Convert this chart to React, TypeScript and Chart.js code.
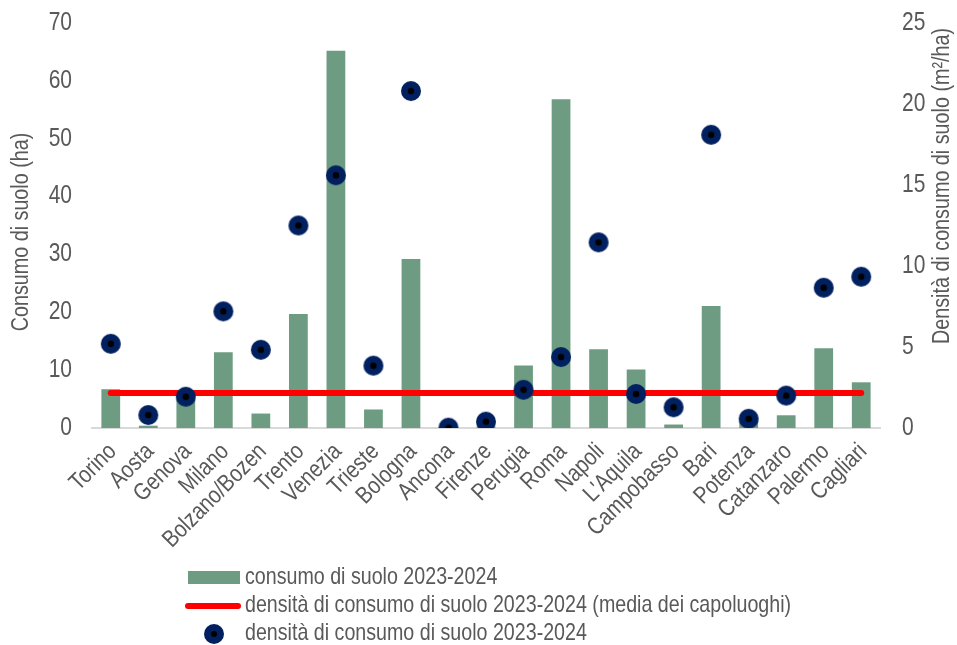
import React, { useEffect, useRef } from 'react';
import { Chart, registerables } from 'chart.js';

Chart.register(...registerables);

const categories = ['Torino', 'Aosta', 'Genova', 'Milano', 'Bolzano/Bozen', 'Trento', 'Venezia', 'Trieste', 'Bologna', 'Ancona', 'Firenze', 'Perugia', 'Roma', 'Napoli', "L'Aquila", 'Campobasso', 'Bari', 'Potenza', 'Catanzaro', 'Palermo', 'Cagliari'];
const consumoHa = [6.7, 0.4, 5.0, 13.1, 2.5, 19.7, 65.2, 3.2, 29.2, 0.0, 0.3, 10.8, 56.8, 13.6, 10.1, 0.6, 21.1, 1.2, 2.2, 13.8, 7.9];
const densita = [5.2, 0.8, 1.93, 7.2, 4.83, 12.5, 15.6, 3.85, 20.8, 0.02, 0.39, 2.36, 4.38, 11.46, 2.1, 1.28, 18.1, 0.57, 2.0, 8.66, 9.34];
const mediaDensita = 2.16;
const leftTickValues = [0, 10, 20, 30, 40, 50, 60, 70];
const rightTickValues = [0, 5, 10, 15, 20, 25];

const labelBar = 'consumo di suolo 2023-2024';
const labelLine = 'densità di consumo di suolo 2023-2024 (media dei capoluoghi)';
const labelPoints = 'densità di consumo di suolo 2023-2024';
const titleLeft = 'Consumo di suolo (ha)';
const titleRight = 'Densità di consumo di suolo (m²/ha)';

const FONT = "'Liberation Sans', Arial, sans-serif";
const SX = 0.84; // narrow glyphs
const TEXT = '#595959';
const GREEN = '#6E9C82';
const NAVY = '#002060';
const RED = '#FF0000';

function makeMarker(r: number, dot: number): HTMLCanvasElement {
  const c = document.createElement('canvas');
  const s = Math.ceil(r * 2 + 2);
  c.width = s;
  c.height = s;
  const ctx = c.getContext('2d')!;
  ctx.fillStyle = NAVY;
  ctx.beginPath();
  ctx.arc(s / 2, s / 2, r, 0, Math.PI * 2);
  ctx.fill();
  ctx.fillStyle = '#000000';
  ctx.beginPath();
  ctx.arc(s / 2, s / 2, dot, 0, Math.PI * 2);
  ctx.fill();
  return c;
}

function narrowText(ctx: CanvasRenderingContext2D, text: string, x: number, y: number, size: number, align: CanvasTextAlign, rot = 0) {
  ctx.save();
  ctx.translate(x, y);
  if (rot) ctx.rotate(rot);
  ctx.scale(SX, 1);
  ctx.font = `${size}px ${FONT}`;
  ctx.textAlign = align;
  ctx.textBaseline = 'middle';
  ctx.fillStyle = TEXT;
  ctx.fillText(text, 0, 0);
  ctx.restore();
}

const extrasPlugin = {
  id: 'extras',
  afterDraw(chart: any) {
    const ctx = chart.ctx as CanvasRenderingContext2D;
    const ys = chart.scales.y;
    const y2s = chart.scales.y2;
    const xs = chart.scales.x;
    ctx.save();
    // tick labels
    leftTickValues.forEach((v) => narrowText(ctx, String(v), 72, ys.getPixelForValue(v), 25, 'right'));
    rightTickValues.forEach((v) => narrowText(ctx, String(v), 902, y2s.getPixelForValue(v), 25, 'left'));
    categories.forEach((c, i) => narrowText(ctx, c, xs.getPixelForTick(i) + 2, 448, 24, 'right', -Math.PI / 4));
    // axis titles
    narrowText(ctx, titleLeft, 22, 232, 23.5, 'center', -Math.PI / 2);
    narrowText(ctx, titleRight, 943, 186, 23.5, 'center', -Math.PI / 2);

    // legend
    const tx = 245;
    const lf = 23.4;
    ctx.fillStyle = GREEN;
    ctx.fillRect(188, 571, 52, 13);
    narrowText(ctx, labelBar, tx, 578, lf, 'left');
    ctx.strokeStyle = RED;
    ctx.lineWidth = 6;
    ctx.lineCap = 'round';
    ctx.beginPath();
    ctx.moveTo(188, 606);
    ctx.lineTo(238, 606);
    ctx.stroke();
    narrowText(ctx, labelLine, tx, 606, lf, 'left');
    ctx.fillStyle = NAVY;
    ctx.beginPath();
    ctx.arc(214, 634, 10, 0, Math.PI * 2);
    ctx.fill();
    ctx.fillStyle = '#000';
    ctx.beginPath();
    ctx.arc(214, 634, 3, 0, Math.PI * 2);
    ctx.fill();
    narrowText(ctx, labelPoints, tx, 634, lf, 'left');
    ctx.restore();
  },
};

export default function App() {
  const ref = useRef<HTMLCanvasElement | null>(null);
  useEffect(() => {
    if (!ref.current) return;
    const marker = makeMarker(10, 3.2);
    const chart = new Chart(ref.current, {
      type: 'bar',
      data: {
        labels: categories,
        datasets: [
          {
            type: 'line',
            label: labelPoints,
            data: densita,
            yAxisID: 'y2',
            showLine: false,
            pointStyle: marker as any,
            pointRadius: 10,
            pointHoverRadius: 10,
            order: 0,
          } as any,
          {
            type: 'line',
            label: labelLine,
            data: categories.map(() => mediaDensita),
            yAxisID: 'y2',
            borderColor: RED,
            borderWidth: 6,
            borderCapStyle: 'round',
            pointRadius: 0,
            fill: false,
            order: 1,
          } as any,
          {
            type: 'bar',
            label: labelBar,
            data: consumoHa,
            yAxisID: 'y',
            backgroundColor: GREEN,
            barPercentage: 0.5,
            categoryPercentage: 1.0,
            order: 2,
          },
        ],
      },
      options: {
        animation: false,
        responsive: false,
        maintainAspectRatio: false,
        layout: { padding: { top: 23, left: 0, right: 0, bottom: 0 } },
        plugins: {
          legend: { display: false },
          tooltip: { enabled: false },
          title: { display: false },
        },
        scales: {
          x: {
            grid: { display: false, drawTicks: false },
            border: { display: true, color: '#D9D9D9', width: 2 },
            ticks: { display: false, autoSkip: false },
            afterFit: (s: any) => { s.height = 645 - 428; },
          },
          y: {
            position: 'left',
            min: 0,
            max: 70,
            grid: { display: false, drawTicks: false },
            border: { display: false },
            afterBuildTicks: (s: any) => { s.ticks = leftTickValues.map((v) => ({ value: v })); },
            ticks: { display: false },
            afterFit: (s: any) => { s.width = 92; },
          },
          y2: {
            position: 'right',
            min: 0,
            max: 25,
            grid: { display: false, drawTicks: false },
            border: { display: false },
            afterBuildTicks: (s: any) => { s.ticks = rightTickValues.map((v) => ({ value: v })); },
            ticks: { display: false },
            afterFit: (s: any) => { s.width = 957 - 880; },
          },
        },
      },
      plugins: [extrasPlugin],
    });
    return () => chart.destroy();
  }, []);
  return (
    <div style={{ position: 'absolute', left: 0, top: 0, width: 957, height: 645, background: '#fff' }}>
      <canvas ref={ref} width={957} height={645} style={{ width: 957, height: 645, display: 'block' }} />
    </div>
  );
}
